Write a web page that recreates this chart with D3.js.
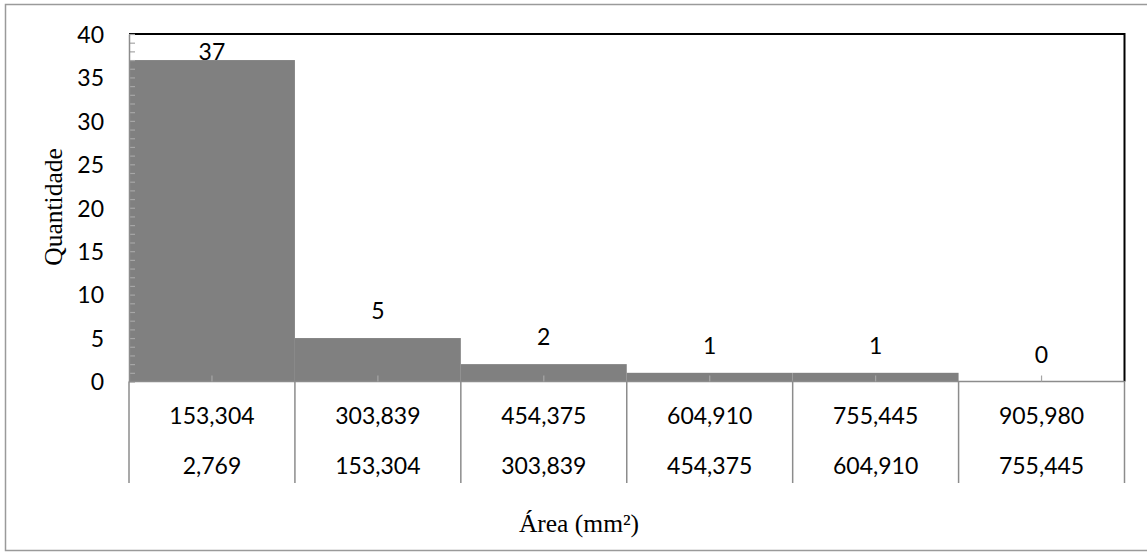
<!DOCTYPE html>
<html>
<head>
<meta charset="utf-8">
<script src="https://cdn.jsdelivr.net/npm/d3@7"></script>
<style>
  html, body { margin: 0; padding: 0; background: #fff; }
  svg { display: block; }
</style>
</head>
<body>
<svg id="chart" width="1147" height="552"></svg>
<script>
// ---- data ----
const upperBounds = ["153,304", "303,839", "454,375", "604,910", "755,445", "905,980"];
const lowerBounds = ["2,769", "153,304", "303,839", "454,375", "604,910", "755,445"];
const counts = [37, 5, 2, 1, 1, 0];
const yTicks = [0, 5, 10, 15, 20, 25, 30, 35, 40];
const yTitle = "Quantidade";
const xTitle = "Área (mm²)";

// ---- layout ----
const plot = { left: 129, top: 34, right: 1124.5, bottom: 381.5 };
const numFont = "Lato, 'Open Sans', sans-serif";
const numSize = 23;
const serifFont = "'Liberation Serif', 'Times New Roman', serif";

const svg = d3.select("#chart");

// outer frame
svg.append("rect")
  .attr("x", 5.5).attr("y", 4.5)
  .attr("width", 1150).attr("height", 546)
  .attr("fill", "#fff").attr("stroke", "#9a9a9a").attr("stroke-width", 1.5);

const idx = counts.map((d, i) => i);
const x = d3.scaleBand().domain(idx).range([plot.left, plot.right]).padding(0);
const y = d3.scaleLinear().domain([0, 40]).range([plot.bottom, plot.top]);

// plot area border (top & right, black)
svg.append("path")
  .attr("d", `M${plot.left},${plot.top}H${plot.right}V${plot.bottom}`)
  .attr("fill", "none").attr("stroke", "#000").attr("stroke-width", 2);

// bars
svg.append("g").selectAll("rect")
  .data(counts)
  .join("rect")
  .attr("x", (d, i) => x(i))
  .attr("width", x.bandwidth())
  .attr("y", d => y(d))
  .attr("height", d => y(0) - y(d))
  .attr("fill", "#808080");

// minor y ticks (every unit)
const minorAxis = d3.axisRight(y).tickValues(d3.range(0, 41, 1)).tickSize(6).tickFormat("");
const gMinor = svg.append("g").attr("transform", `translate(${plot.left},0)`).call(minorAxis);
gMinor.select(".domain").remove();
gMinor.selectAll("line").attr("stroke", "#a6a6a6").attr("stroke-width", 1.2);

// y axis labels + line
const yAxis = d3.axisLeft(y).tickValues(yTicks).tickSize(0).tickPadding(25);
const gY = svg.append("g").attr("transform", `translate(${plot.left},0)`).call(yAxis);
gY.select(".domain").attr("stroke", "#8c8c8c").attr("stroke-width", 1.5);
gY.selectAll("text")
  .attr("font-family", numFont).attr("font-size", numSize).attr("fill", "#000")
  .attr("dy", "0.36em");

// x axis line
svg.append("line")
  .attr("x1", plot.left).attr("x2", plot.right)
  .attr("y1", plot.bottom).attr("y2", plot.bottom)
  .attr("stroke", "#8c8c8c").attr("stroke-width", 1.5);

// category centre ticks (pointing up into plot)
svg.append("g").selectAll("line")
  .data(idx)
  .join("line")
  .attr("x1", i => x(i) + x.bandwidth() / 2)
  .attr("x2", i => x(i) + x.bandwidth() / 2)
  .attr("y1", plot.bottom).attr("y2", plot.bottom - 6)
  .attr("stroke", "#a6a6a6").attr("stroke-width", 1.2);

// category separators
const bounds = idx.map(i => x(i)).concat([plot.right]);
svg.append("g").selectAll("line")
  .data(bounds)
  .join("line")
  .attr("x1", d => d).attr("x2", d => d)
  .attr("y1", plot.bottom).attr("y2", 483)
  .attr("stroke", "#8c8c8c").attr("stroke-width", 1.5);

// category labels (two levels)
svg.append("g").selectAll("text")
  .data(upperBounds)
  .join("text")
  .attr("x", (d, i) => x(i) + x.bandwidth() / 2)
  .attr("y", 424)
  .attr("text-anchor", "middle")
  .attr("font-family", numFont).attr("font-size", numSize)
  .text(d => d);

svg.append("g").selectAll("text")
  .data(lowerBounds)
  .join("text")
  .attr("x", (d, i) => x(i) + x.bandwidth() / 2)
  .attr("y", 474)
  .attr("text-anchor", "middle")
  .attr("font-family", numFont).attr("font-size", numSize)
  .text(d => d);

// data labels
svg.append("g").selectAll("text")
  .data(counts)
  .join("text")
  .attr("x", (d, i) => x(i) + x.bandwidth() / 2)
  .attr("y", d => Math.max(y(d) - 19, plot.top + 26))
  .attr("text-anchor", "middle")
  .attr("font-family", numFont).attr("font-size", numSize)
  .text(d => d);

// axis titles
svg.append("text")
  .attr("transform", "translate(62,207) rotate(-90)")
  .attr("text-anchor", "middle")
  .attr("font-family", serifFont).attr("font-size", 25.5)
  .text(yTitle);

svg.append("text")
  .attr("x", 579).attr("y", 532)
  .attr("text-anchor", "middle")
  .attr("font-family", serifFont).attr("font-size", 25.5)
  .text(xTitle);
</script>
</body>
</html>
